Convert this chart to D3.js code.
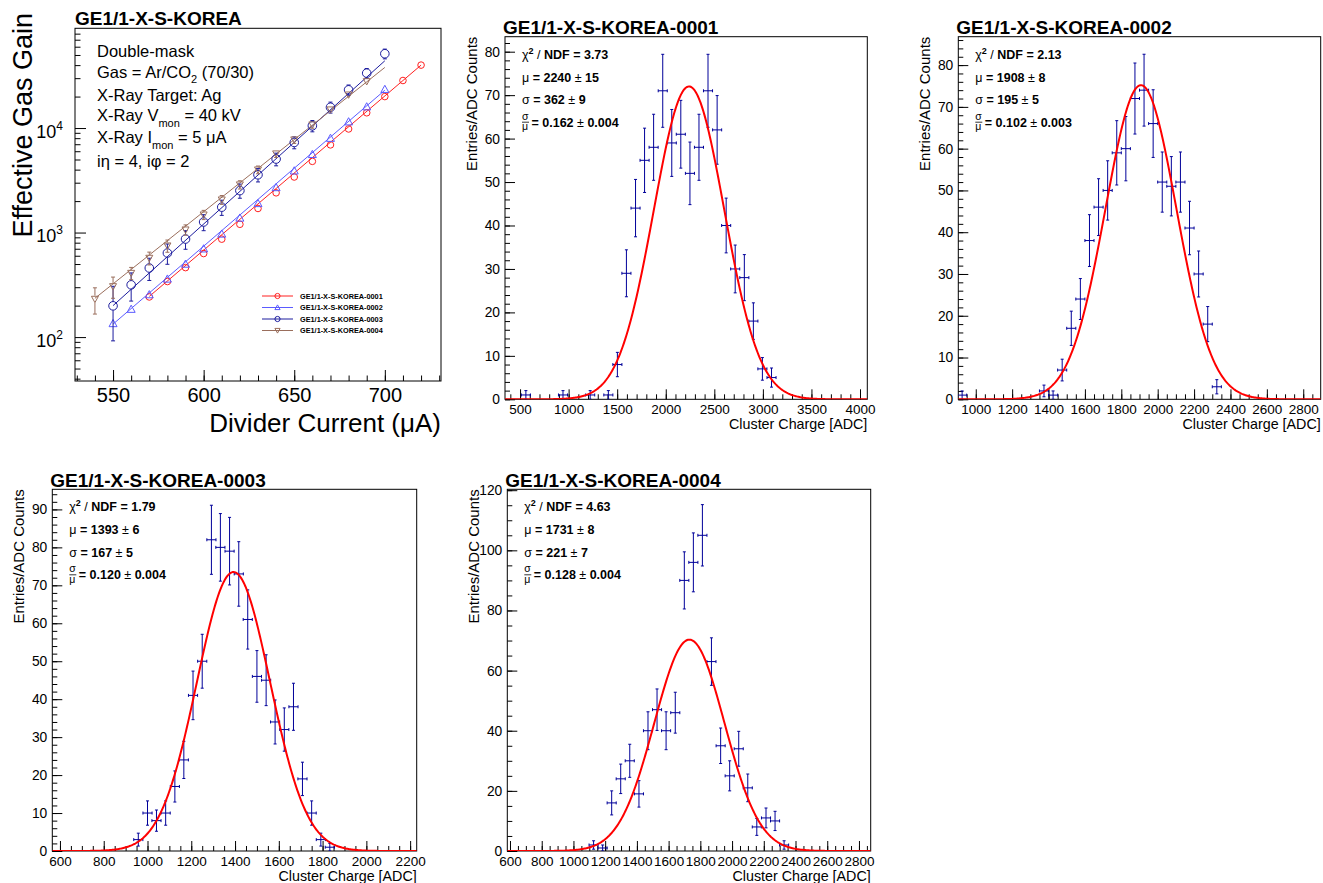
<!DOCTYPE html>
<html>
<head>
<meta charset="utf-8">
<script src="https://cdn.jsdelivr.net/npm/d3@7/dist/d3.min.js"></script>
<style>
body{margin:0;background:#fff}
svg{font-family:"Liberation Sans",Arial,Helvetica,sans-serif}
</style>
</head>
<body>
<svg width="1323" height="883"></svg>
<script>

// ---- gain scan (panel 1) ----
var cur1 = [570,580,590,600,610,620,630,640,650,660,670,680,690,700,710,720]
var gain1 = [242,340,462,630,865,1200,1700,2400,3400,4800,6900,9800,14000,20000,28500,40000]
var err1 = [12,17,23,30,42,60,85,120,170,240,340,480,700,1000,1400,2000]

var cur2 = [550,560,570,580,590,600,610,620,630,640,650,660,670,680,690,700]
var gain2 = [135,185,255,360,500,700,970,1380,1900,2700,3900,5600,8000,11500,16000,23500]
var err2 = [7,9,13,18,25,35,48,70,95,135,195,280,400,575,800,1200]

var cur3 = [550,560,570,580,590,600,610,620,630,640,650,660,670,680,690,700]
var gain3 = [199,316,458,637,867,1262,1750,2520,3570,5050,7280,10500,15800,23200,33500,51400]
var err3 = [107,95,110,140,175,220,290,390,520,700,950,1300,1900,2600,3600,5500]

var cur4 = [540,550,560,570,580,590,600,610,620,630,640,650,660,670,680,690]
var gain4 = [231,305,409,570,748,1064,1480,2060,2870,3990,5680,7730,10760,14970,20800,27900]
var err4 = [65,70,55,80,100,120,150,200,260,340,450,600,800,1100,1500,2000]

// exponential fit end points
var fitX1 = [570,720], fitY1 = [245,40000]
var fitX2 = [550,700], fitY2 = [133,23000]
var fitX3 = [550,700], fitY3 = [200,44000]
var fitX4 = [540,700], fitY4 = [235,38000]

var seriesNames = ["GE1/1-X-S-KOREA-0001","GE1/1-X-S-KOREA-0002","GE1/1-X-S-KOREA-0003","GE1/1-X-S-KOREA-0004"]
var gainXTicks = [550,600,650,700]
var gainYTicks = [100,1000,10000]

// ---- cluster charge histograms ----
var binsA = [560,942,1222,1409,1502,1595,1689,1782,1875,1969,2062,2155,2249,2342,2435,2529,2622,2715,2809,2902,2995,3089]
var countsA = [1,1,1,1,8,29,44,55,58,71,59,61,52,58,71,62,40,30,28,18,7,5]
var errA = [1,1,1,1,2.8,5.4,6.6,7.4,7.6,8.4,7.7,7.8,7.2,7.6,8.4,7.9,6.3,5.5,5.3,4.2,2.6,2.2]
var fitA = {mu:2240, sigma:362, amp:72}
var statsA = ["3.73","2240","15","362","9","0.162","0.004"]

var binsB = [925,1375,1425,1475,1525,1575,1625,1675,1725,1775,1825,1875,1925,1975,2025,2075,2125,2175,2225,2275,2325]
var countsB = [1,2,1,7,17,24,38,46,50,59,60,72,74,66,52,51,52,41,30,18,3]
var errB = [1,1.4,1,2.6,4.1,4.9,6.2,6.8,7.1,7.7,7.7,8.5,8.6,8.1,7.2,7.1,7.2,6.4,5.5,4.2,1.7]
var fitB = {mu:1908, sigma:195, amp:75.2}
var statsB = ["2.13","1908","8","195","5","0.102","0.003"]

var binsC = [958,1000,1041,1083,1125,1166,1208,1250,1292,1333,1375,1417,1458,1500,1542,1583,1625,1667,1708,1750,1792,1833]
var countsC = [3,10,8,10,17,24,41,50,82,80,79,73,61,46,45,34,32,38,19,10,3,1]
var errC = [1.7,3.2,2.8,3.2,4.1,4.9,6.4,7.1,9.1,8.9,8.9,8.5,7.8,6.8,6.7,5.8,5.7,6.2,4.4,3.2,1.7,1]
var fitC = {mu:1393, sigma:167, amp:73.5}
var statsC = ["1.79","1393","6","167","5","0.120","0.004"]

var binsD = [1127,1184,1241,1298,1355,1413,1470,1527,1584,1642,1699,1756,1813,1870,1928,1985,2042,2099,2156,2214,2271,2328]
var countsD = [2,1,16,24,30,19,40,47,40,46,90,96,105,63,35,25,34,21,8,11,10,2]
var errD = [1.4,1,4,4.9,5.5,4.4,6.3,6.9,6.3,6.8,9.5,9.8,10.2,7.9,5.9,5,5.8,4.6,2.8,3.3,3.2,1.4]
var fitD = {mu:1731, sigma:221, amp:70.3}
var statsD = ["4.63","1731","8","221","7","0.128","0.004"]

var svg = d3.select("svg")
var blue = "#000099"

// ------------------------------------------------------------
// panel 1 : effective gas gain vs divider current
var drawGain = function()
{
    var L = 75, R = 441, T = 28.3, B = 381
    var g = svg.append("g")
    var x = d3.scaleLinear().domain([529,731]).range([L,R])
    var y = d3.scaleLog().domain([38,90000]).range([B,T])

    g.append("clipPath").attr("id","clipGain")
      .append("rect").attr("x",L).attr("y",T).attr("width",R-L).attr("height",B-T)

    // minor ticks
    var minorY = []
    for(var e=1;e<=4;e++){ for(var m=2;m<=9;m++){ var v=m*Math.pow(10,e); if(v>38&&v<90000) minorY.push(v) } }
    g.append("g").attr("transform","translate("+L+",0)")
      .call(d3.axisLeft(y).tickValues(minorY).tickSizeInner(-5.5).tickSizeOuter(0).tickFormat(""))
    g.append("g").attr("transform","translate(0,"+B+")")
      .call(d3.axisBottom(x).tickValues(d3.range(530,731,10)).tickSizeInner(-5.5).tickSizeOuter(0).tickFormat(""))

    var ya = g.append("g").attr("transform","translate("+L+",0)")
      .call(d3.axisLeft(y).tickValues(gainYTicks).tickSizeInner(-11).tickSizeOuter(0).tickPadding(12))
    ya.selectAll("text").attr("font-size",18).attr("fill","#000").attr("dy","0.5em")
      .each(function(d){
          var t = d3.select(this).text("")
          t.append("tspan").text("10")
          t.append("tspan").attr("dy",-8).attr("font-size",12).text(Math.round(Math.log10(d)))
      })
    var xa = g.append("g").attr("transform","translate(0,"+B+")")
      .call(d3.axisBottom(x).tickValues(gainXTicks).tickFormat(d3.format("d")).tickSizeInner(-11).tickSizeOuter(0).tickPadding(7))
    xa.selectAll("text").attr("font-size",20).attr("fill","#000")
    g.selectAll(".domain").remove()
    g.selectAll(".tick line").attr("stroke","#000")

    g.append("rect").attr("x",L).attr("y",T).attr("width",R-L).attr("height",B-T)
      .attr("fill","none").attr("stroke","#000")

    var series = [
        {xs:cur1, ys:gain1, es:err1, fx:fitX1, fy:fitY1, color:"#ff2020", mk:"circle", r:3.3},
        {xs:cur2, ys:gain2, es:err2, fx:fitX2, fy:fitY2, color:"#5b5bff", mk:"up", r:4},
        {xs:cur3, ys:gain3, es:err3, fx:fitX3, fy:fitY3, color:"#1c1c9e", mk:"circle", r:4.3},
        {xs:cur4, ys:gain4, es:err4, fx:fitX4, fy:fitY4, color:"#9a6e5c", mk:"down", r:3.5}
    ]

    var line = d3.line().x(function(d){return x(d[0])}).y(function(d){return y(d[1])})
    var pg = g.append("g").attr("clip-path","url(#clipGain)")

    series.forEach(function(s){
        pg.append("path").attr("d",line([[s.fx[0],s.fy[0]],[s.fx[1],s.fy[1]]]))
          .attr("stroke",s.color).attr("stroke-width",1).attr("fill","none")
    })
    series.forEach(function(s){
        s.xs.forEach(function(c,i){
            var cx = x(c), cy = y(s.ys[i])
            var y1 = y(s.ys[i]+s.es[i]), y0 = y(Math.max(s.ys[i]-s.es[i],1))
            if(y1 < cy - s.r){
                pg.append("line").attr("x1",cx).attr("x2",cx).attr("y1",y1).attr("y2",cy-s.r).attr("stroke",s.color)
                pg.append("line").attr("x1",cx-2).attr("x2",cx+2).attr("y1",y1).attr("y2",y1).attr("stroke",s.color)
            }
            if(y0 > cy + s.r){
                pg.append("line").attr("x1",cx).attr("x2",cx).attr("y1",cy+s.r).attr("y2",y0).attr("stroke",s.color)
                pg.append("line").attr("x1",cx-2).attr("x2",cx+2).attr("y1",y0).attr("y2",y0).attr("stroke",s.color)
            }
            drawMarker(pg, s.mk, cx, cy, s.r, s.color)
        })
    })

    // titles
    svg.append("text").attr("x",75).attr("y",25).attr("font-size",19).attr("font-weight","bold").text("GE1/1-X-S-KOREA")
    svg.append("text").attr("transform","translate(32,13) rotate(-90)").attr("text-anchor","end")
      .attr("font-size",27).text("Effective Gas Gain")
    var xt = svg.append("text").attr("x",441).attr("y",432).attr("text-anchor","end").attr("font-size",26)
    xt.text("Divider Current (\u03bcA)")

    // annotation text
    var ax = 97, fs = 16.5
    svg.append("text").attr("x",ax).attr("y",57).attr("font-size",fs).text("Double-mask")
    var t2 = svg.append("text").attr("x",ax).attr("y",78).attr("font-size",fs)
    t2.append("tspan").text("Gas = Ar/CO")
    t2.append("tspan").attr("dy",5).attr("font-size",11).text("2")
    t2.append("tspan").attr("dy",-5).text(" (70/30)")
    svg.append("text").attr("x",ax).attr("y",101).attr("font-size",fs).text("X-Ray Target: Ag")
    var t4 = svg.append("text").attr("x",ax).attr("y",121).attr("font-size",fs)
    t4.append("tspan").text("X-Ray V")
    t4.append("tspan").attr("dy",6).attr("font-size",11).text("mon")
    t4.append("tspan").attr("dy",-6).text("  = 40 kV")
    var t5 = svg.append("text").attr("x",ax).attr("y",143).attr("font-size",fs)
    t5.append("tspan").text("X-Ray I")
    t5.append("tspan").attr("dy",6).attr("font-size",11).text("mon")
    t5.append("tspan").attr("dy",-6).text("   = 5 \u03bcA")
    svg.append("text").attr("x",ax).attr("y",167).attr("font-size",fs).text("i\u03b7 = 4, i\u03c6 = 2")

    // legend
    var ly = [296,307.5,319,330.5]
    series.forEach(function(s,i){
        svg.append("line").attr("x1",262).attr("x2",293).attr("y1",ly[i]).attr("y2",ly[i]).attr("stroke",s.color)
        drawMarker(svg, s.mk, 277.5, ly[i], 2.6, s.color)
        svg.append("text").attr("x",300).attr("y",ly[i]+2.6).attr("font-size",7.3).attr("font-weight","bold")
          .text(seriesNames[i])
    })
}

var drawMarker = function(g, mk, cx, cy, r, color)
{
    if(mk=="circle"){
        g.append("circle").attr("cx",cx).attr("cy",cy).attr("r",r).attr("fill","none").attr("stroke",color)
    }
    else if(mk=="up"){
        g.append("path").attr("d","M"+cx+","+(cy-r)+"L"+(cx+r)+","+(cy+r*0.8)+"L"+(cx-r)+","+(cy+r*0.8)+"Z")
          .attr("fill","none").attr("stroke",color)
    }
    else {
        g.append("path").attr("d","M"+cx+","+(cy+r)+"L"+(cx+r)+","+(cy-r*0.8)+"L"+(cx-r)+","+(cy-r*0.8)+"Z")
          .attr("fill","none").attr("stroke",color)
    }
}

// ------------------------------------------------------------
// histogram panels
var drawHist = function(h)
{
    var g = svg.append("g")
    var x = d3.scaleLinear().domain(h.xdom).range([h.L,h.R])
    var y = d3.scaleLinear().domain(h.ydom).range([h.B,h.T])

    g.append("clipPath").attr("id","clip"+h.id)
      .append("rect").attr("x",h.L).attr("y",h.T).attr("width",h.R-h.L).attr("height",h.B-h.T)

    g.append("g").attr("transform","translate("+h.L+",0)")
      .call(d3.axisLeft(y).tickValues(d3.range(0,h.ydom[1],h.yMinor)).tickSizeInner(-5).tickSizeOuter(0).tickFormat(""))
    g.append("g").attr("transform","translate(0,"+h.B+")")
      .call(d3.axisBottom(x).tickValues(d3.range(h.xMinorStart,h.xdom[1],h.xMinor)).tickSizeInner(-5).tickSizeOuter(0).tickFormat(""))

    var ya = g.append("g").attr("transform","translate("+h.L+",0)")
      .call(d3.axisLeft(y).tickValues(h.yTicks).tickFormat(d3.format("d")).tickSizeInner(-10).tickSizeOuter(0).tickPadding(5))
    ya.selectAll("text").attr("font-size",13.8).attr("fill","#000")
    var xa = g.append("g").attr("transform","translate(0,"+h.B+")")
      .call(d3.axisBottom(x).tickValues(h.xTicks).tickFormat(d3.format("d")).tickSizeInner(-10).tickSizeOuter(0).tickPadding(5))
    xa.selectAll("text").attr("font-size",13.5).attr("fill","#000")
    g.selectAll(".domain").remove()
    g.selectAll(".tick line").attr("stroke","#000")

    g.append("rect").attr("x",h.L).attr("y",h.T).attr("width",h.R-h.L).attr("height",h.B-h.T)
      .attr("fill","none").attr("stroke","#000")

    var pg = g.append("g").attr("clip-path","url(#clip"+h.id+")")

    // data points with error bars
    var half = h.binw/2
    h.bins.forEach(function(b,i){
        var cx = x(b), cy = y(h.counts[i])
        var y1 = y(h.counts[i]+h.errs[i]), y0 = y(h.counts[i]-h.errs[i])
        var xl = x(b-half), xr = x(b+half)
        var pts = pg.append("g").attr("stroke",blue).attr("stroke-width",1)
        pts.append("line").attr("x1",cx).attr("x2",cx).attr("y1",y1).attr("y2",y0)
        pts.append("line").attr("x1",xl).attr("x2",xr).attr("y1",cy).attr("y2",cy)
        pts.append("line").attr("x1",cx-1.5).attr("x2",cx+1.5).attr("y1",y1).attr("y2",y1)
        pts.append("line").attr("x1",cx-1.5).attr("x2",cx+1.5).attr("y1",y0).attr("y2",y0)
        pts.append("line").attr("x1",xl).attr("x2",xl).attr("y1",cy-1.5).attr("y2",cy+1.5)
        pts.append("line").attr("x1",xr).attr("x2",xr).attr("y1",cy-1.5).attr("y2",cy+1.5)
    })

    // gaussian fit function
    var f = h.fit
    var xs = d3.range(h.xdom[0], h.xdom[1]+1, (h.xdom[1]-h.xdom[0])/400)
    var curve = d3.line()
        .x(function(v){return x(v)})
        .y(function(v){return y(f.amp*Math.exp(-0.5*Math.pow((v-f.mu)/f.sigma,2)))})
    pg.append("path").attr("d",curve(xs)).attr("fill","none").attr("stroke","#ff0000").attr("stroke-width",2)

    // titles
    svg.append("text").attr("x",h.L-2).attr("y",h.T-2.5).attr("font-size",19).attr("font-weight","bold").text(h.title)
    svg.append("text").attr("transform","translate("+(h.L-28)+","+h.T+") rotate(-90)")
      .attr("text-anchor","end").attr("font-size",15).text("Entries/ADC Counts")
    svg.append("text").attr("x",h.R).attr("y",h.B+29.5).attr("text-anchor","end").attr("font-size",14.3)
      .text("Cluster Charge [ADC]")

    // fit statistics
    var s = h.stats, sx = h.L + 17, fs = 12.5
    var l1 = svg.append("text").attr("x",sx).attr("y",h.T+22).attr("font-size",fs)
    l1.append("tspan").text("\u03c7")
    l1.append("tspan").attr("dy",-5).attr("font-size",9).attr("font-weight","bold").text("2")
    l1.append("tspan").attr("dy",5).text(" / ")
    l1.append("tspan").attr("font-weight","bold").text("NDF = "+s[0])

    var l2 = svg.append("text").attr("x",sx).attr("y",h.T+45).attr("font-size",fs)
    l2.append("tspan").text("\u03bc")
    l2.append("tspan").attr("font-weight","bold").text(" = "+s[1]+" ")
    l2.append("tspan").text(" \u00b1 ")
    l2.append("tspan").attr("font-weight","bold").text(s[2])

    var l3 = svg.append("text").attr("x",sx).attr("y",h.T+67.5).attr("font-size",fs)
    l3.append("tspan").text("\u03c3")
    l3.append("tspan").attr("font-weight","bold").text(" = "+s[3]+" ")
    l3.append("tspan").text(" \u00b1 ")
    l3.append("tspan").attr("font-weight","bold").text(s[4])

    var by = h.T+90
    svg.append("text").attr("x",sx).attr("y",by-7).attr("font-size",10.5).text("\u03c3")
    svg.append("line").attr("x1",sx).attr("x2",sx+7).attr("y1",by-4.5).attr("y2",by-4.5).attr("stroke","#000").attr("stroke-width",0.8)
    svg.append("text").attr("x",sx).attr("y",by+3.5).attr("font-size",10.5).text("\u03bc")
    var l4 = svg.append("text").attr("x",sx+9.5).attr("y",by).attr("font-size",fs)
    l4.append("tspan").attr("font-weight","bold").text("= "+s[5]+" ")
    l4.append("tspan").text("\u00b1 ")
    l4.append("tspan").attr("font-weight","bold").text(s[6])
}

drawGain()

drawHist({id:"A", title:"GE1/1-X-S-KOREA-0001", L:505, R:867.3, T:36.7, B:399.3,
    xdom:[345,4075], ydom:[0,83.45], xTicks:[500,1000,1500,2000,2500,3000,3500,4000],
    yTicks:[0,10,20,30,40,50,60,70,80], xMinor:100, xMinorStart:400, yMinor:2, binw:93.3,
    bins:binsA, counts:countsA, errs:errA, fit:fitA, stats:statsA})

drawHist({id:"B", title:"GE1/1-X-S-KOREA-0002", L:958.3, R:1320.7, T:36.7, B:399.3,
    xdom:[904,2896], ydom:[0,86.8], xTicks:[1000,1200,1400,1600,1800,2000,2200,2400,2600,2800],
    yTicks:[0,10,20,30,40,50,60,70,80], xMinor:50, xMinorStart:950, yMinor:2, binw:50,
    bins:binsB, counts:countsB, errs:errB, fit:fitB, stats:statsB})

drawHist({id:"C", title:"GE1/1-X-S-KOREA-0003", L:52.3, R:416.7, T:489.3, B:851,
    xdom:[565,2230], ydom:[0,95.3], xTicks:[600,800,1000,1200,1400,1600,1800,2000,2200],
    yTicks:[0,10,20,30,40,50,60,70,80,90], xMinor:50, xMinorStart:600, yMinor:2, binw:41.7,
    bins:binsC, counts:countsC, errs:errC, fit:fitC, stats:statsC})

drawHist({id:"D", title:"GE1/1-X-S-KOREA-0004", L:507.3, R:870.7, T:489.3, B:851,
    xdom:[583,2874], ydom:[0,120.3], xTicks:[600,800,1000,1200,1400,1600,1800,2000,2200,2400,2600,2800],
    yTicks:[0,20,40,60,80,100,120], xMinor:50, xMinorStart:600, yMinor:5, binw:57.2,
    bins:binsD, counts:countsD, errs:errD, fit:fitD, stats:statsD})

</script>
</body>
</html>
